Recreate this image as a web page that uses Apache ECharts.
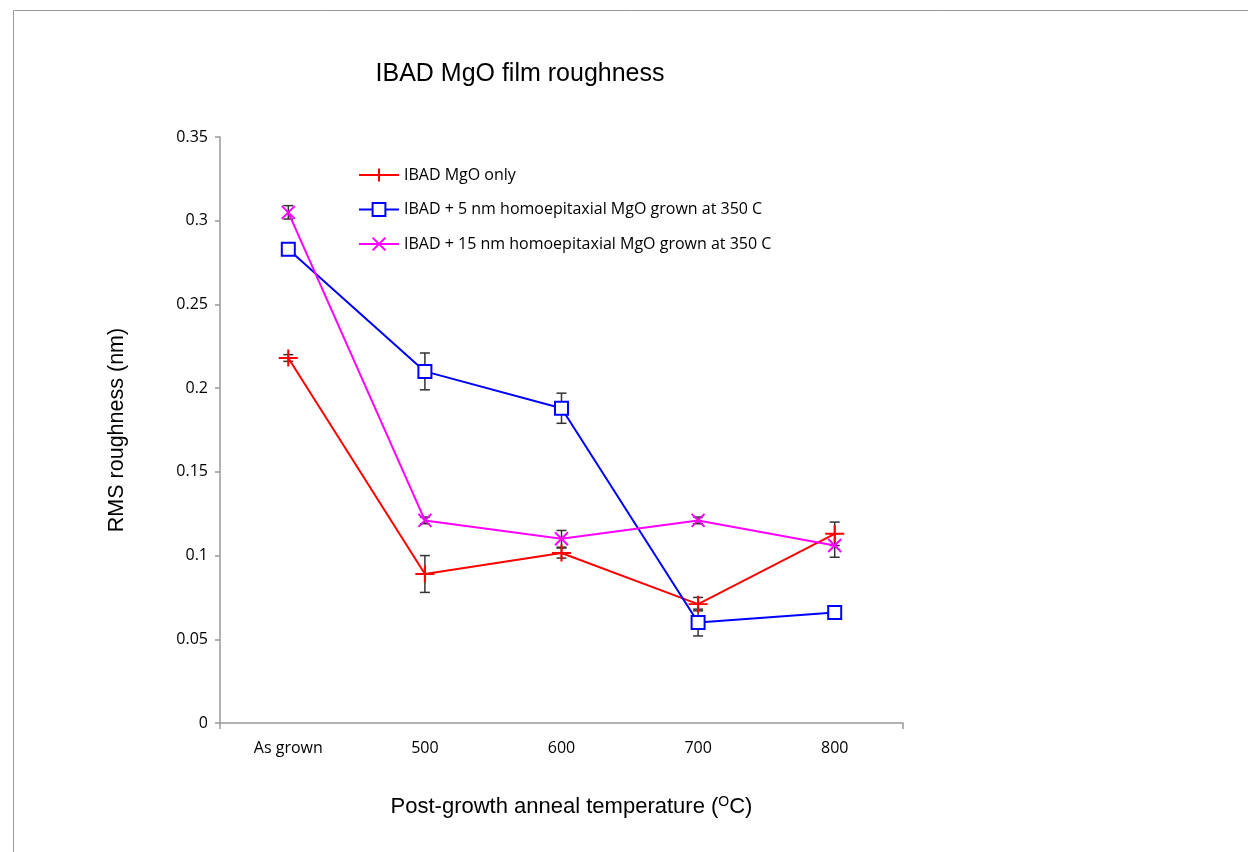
<!DOCTYPE html>
<html><head><meta charset="utf-8">
<script src="https://cdn.jsdelivr.net/npm/echarts@6/dist/echarts.min.js"></script>
<style>html,body{margin:0;padding:0;background:#fff}#c{width:1248px;height:852px}</style>
</head><body><div id="c"></div>
<script>
const categories = ['As grown', '500', '600', '700', '800'];
const seriesNames = ['IBAD MgO only', 'IBAD + 5 nm homoepitaxial MgO grown at 350 C', 'IBAD + 15 nm homoepitaxial MgO grown at 350 C'];
const mgoOnly = [0.218, 0.089, 0.1015, 0.071, 0.113];
const mgoOnlyErr = [0.002, 0.011, 0.003, 0.004, 0.007];
const plus5 = [0.283, 0.210, 0.188, 0.060, 0.066];
const plus5Err = [0.002, 0.011, 0.009, 0.008, 0];
const plus15 = [0.305, 0.121, 0.110, 0.121, 0.106];
const plus15Err = [0.004, 0.002, 0.005, 0.002, 0.007];
const yMin = 0, yMax = 0.35, yStep = 0.05;

const colors = ['#ff0000', '#0000ff', '#ff00ff'];
const symbols = [
  'path://M0,8 L18,8 M9,0 L9,16',
  'rect',
  'path://M0,0 L14,14 M14,0 L0,14'
];
const values = [mgoOnly, plus5, plus15];
const errs = [mgoOnlyErr, plus5Err, plus15Err];

const font = '"Open Sans", Lato, sans-serif';
const sans = '"Liberation Sans", Arial, sans-serif';
const series = [];
values.forEach((vals, s) => {
  const d = [];
  vals.forEach((v, i) => { if (errs[s][i] > 0) d.push([i, v - errs[s][i], v + errs[s][i]]); });
  series.push({
    type: 'custom', z: 1, silent: true,
    encode: { x: 0, y: [1, 2] },
    data: d,
    renderItem(params, api) {
      const lo = api.coord([api.value(0), api.value(1)]);
      const hi = api.coord([api.value(0), api.value(2)]);
      const w = 5;
      const st = { stroke: '#333', lineWidth: 1.5 };
      return { type: 'group', children: [
        { type: 'line', shape: { x1: lo[0], y1: lo[1], x2: hi[0], y2: hi[1] }, style: st },
        { type: 'line', shape: { x1: lo[0] - w, y1: lo[1], x2: lo[0] + w, y2: lo[1] }, style: st },
        { type: 'line', shape: { x1: hi[0] - w, y1: hi[1], x2: hi[0] + w, y2: hi[1] }, style: st }
      ]};
    }
  });
});
values.forEach((vals, s) => {
  series.push({
    name: seriesNames[s], type: 'line', z: 3,
    data: vals,
    symbol: symbols[s],
    symbolSize: s === 0 ? [19, 17] : 13,
    showAllSymbol: true,
    lineStyle: { color: colors[s], width: 2 },
    itemStyle: { color: s === 1 ? '#ffffff' : colors[s], borderColor: colors[s], borderWidth: 2 }
  });
});

const chart = echarts.init(document.getElementById('c'));
chart.setOption({
  animation: false,
  backgroundColor: '#fff',
  graphic: [{ type: 'rect', shape: { x: 13.5, y: 10.5, width: 1400, height: 1000 }, style: { fill: 'none', stroke: '#999', lineWidth: 1 }, z: -10 }],
  title: {
    text: 'IBAD MgO film roughness', left: 515, top: 57, textAlign: 'center',
    textStyle: { fontFamily: sans, fontSize: 25, fontWeight: 'normal', color: '#000' }
  },
  legend: {
    data: seriesNames, orient: 'vertical', left: 353, top: 162, itemGap: 18.5,
    itemWidth: 40, itemHeight: 16,
    textStyle: { fontFamily: font, fontSize: 16, color: '#000' }
  },
  grid: { left: 220, right: 345, top: 137, bottom: 129, containLabel: false },
  xAxis: [{
    type: 'category', data: categories, boundaryGap: true,
    axisLine: { lineStyle: { color: '#999', width: 1.5 } },
    axisTick: { alignWithLabel: true, length: 6, lineStyle: { color: '#999', width: 1.5 } },
    axisLabel: { fontFamily: font, fontSize: 16, color: '#000', margin: 17 },
    name: '{a|Post-growth anneal temperature (}{s|O}{a|C)}',
    nameLocation: 'middle', nameGap: 72,
    nameTextStyle: {
      padding: [0, 0, 0, 20],
      rich: {
        a: { fontFamily: sans, fontSize: 22, color: '#000' },
        s: { fontFamily: sans, fontSize: 14, color: '#000', verticalAlign: 'top', padding: [0, 0, 9, 0] }
      }
    }
  }, {
    type: 'value', min: 0, max: 1, interval: 1, position: 'bottom',
    axisLine: { show: false }, axisLabel: { show: false }, splitLine: { show: false },
    axisTick: { show: true, length: 6, lineStyle: { color: '#999', width: 1.5 } }
  }],
  yAxis: {
    type: 'value', min: yMin, max: yMax, interval: yStep,
    axisLine: { show: true, lineStyle: { color: '#999', width: 1.5 } },
    axisTick: { show: true, length: 5, lineStyle: { color: '#999', width: 1.5 } },
    splitLine: { show: false },
    axisLabel: { fontFamily: font, fontSize: 16, color: '#000', margin: 12 },
    name: 'RMS roughness (nm)', nameLocation: 'middle', nameGap: 92, nameRotate: 90,
    nameTextStyle: { fontFamily: sans, fontSize: 21.5, color: '#000' }
  },
  series
});
</script></body></html>
